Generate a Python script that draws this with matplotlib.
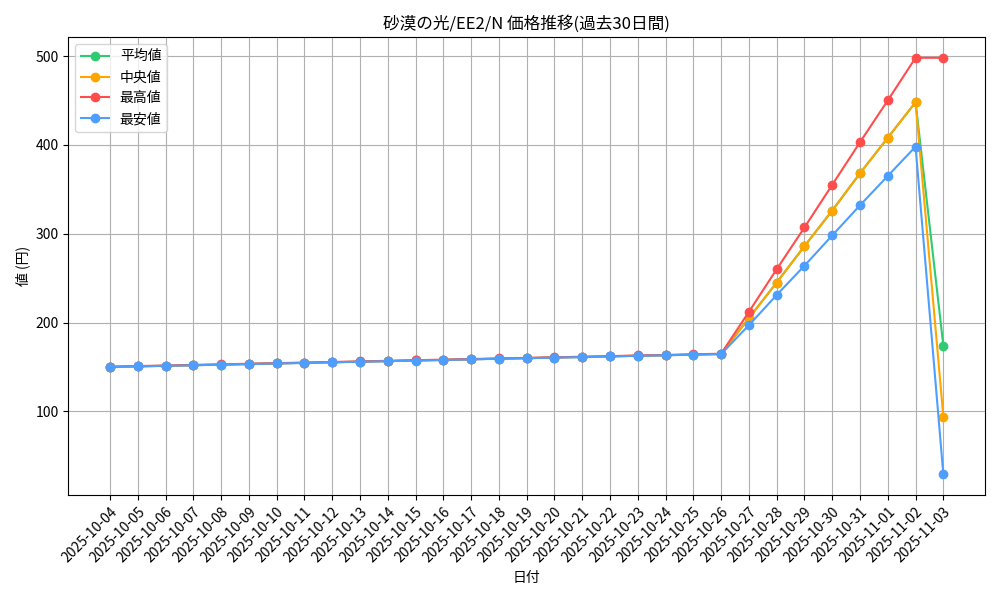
import matplotlib
matplotlib.use("Agg")
import matplotlib.pyplot as plt

plt.rcParams['font.family'] = ['Noto Sans CJK JP', 'DejaVu Sans']

dates = [f"2025-10-{d:02d}" for d in range(4, 32)] + ["2025-11-01", "2025-11-02", "2025-11-03"]

base = [150.0, 150.7, 151.3, 152.0, 152.6, 153.3, 154.0, 154.6, 155.3, 155.9,
        156.6, 157.3, 157.9, 158.6, 159.3, 159.9, 160.6, 161.2, 161.9, 162.6,
        163.2, 163.9, 164.6]
avg_vals = base + [205, 245, 286, 326, 368, 408, 448, 174]
med_vals = base + [205, 245, 286, 326, 368, 408, 448, 94]
max_vals = [v + 0.3 for v in base] + [212, 260, 307, 355, 403, 450, 498, 498]
min_vals = [v - 0.1 for v in base] + [197, 231, 264, 298, 332, 365, 398, 29]

fig, ax = plt.subplots(figsize=(10, 6), dpi=100)
ax.plot(dates, avg_vals, marker="o", color="#2ecc71", label="平均値")
ax.plot(dates, med_vals, marker="o", color="#ffa500", label="中央値")
ax.plot(dates, max_vals, marker="o", color="#ff4d4d", label="最高値")
ax.plot(dates, min_vals, marker="o", color="#4d9eff", label="最安値")

ax.set_title("砂漠の光/EE2/N 価格推移(過去30日間)")
ax.set_xlabel("日付")
ax.set_ylabel("値 (円)")
ax.grid(True)
ax.legend(loc="upper left")
plt.setp(ax.get_xticklabels(), rotation=45, ha="right", rotation_mode="anchor")
plt.tight_layout()
fig.savefig("out.png")
